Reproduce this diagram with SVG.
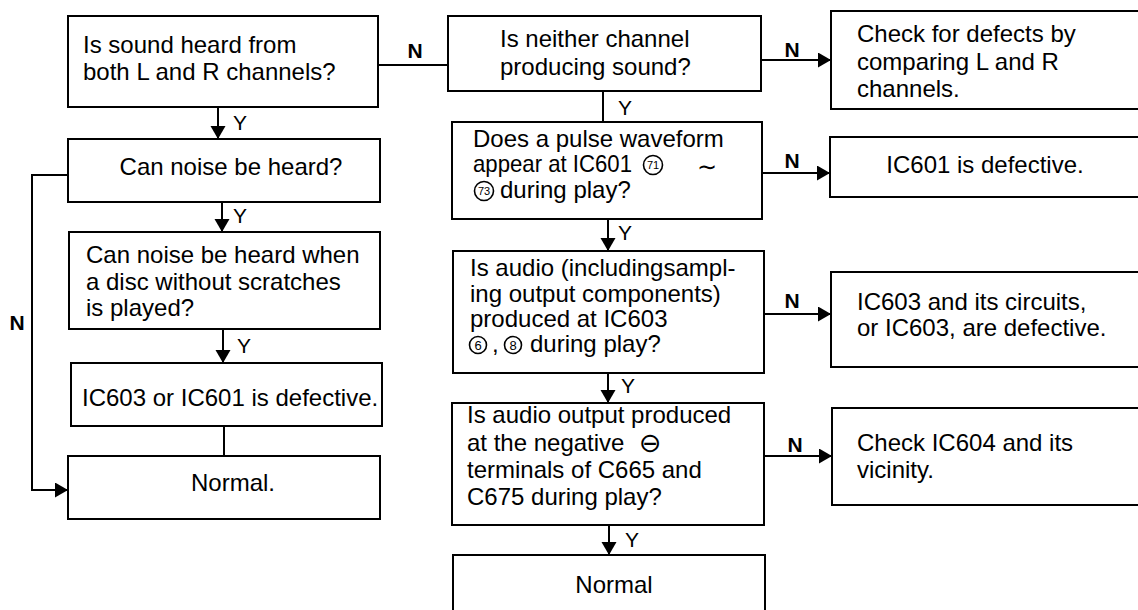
<svg xmlns="http://www.w3.org/2000/svg" width="1138" height="610" viewBox="0 0 1138 610">
<defs>
<style>
.box{fill:#fff;stroke:#000;stroke-width:2}
.t{font-family:"Liberation Sans",Arial,sans-serif;font-size:24px;fill:#000}
.c{text-anchor:middle}
.lbl{font-family:"Liberation Sans",Arial,sans-serif;font-size:21px;fill:#000;text-anchor:middle}
.n{font-weight:bold}
.ln{fill:none;stroke:#000;stroke-width:2}
.arr{marker-end:url(#ah)}
.sym{font-family:"DejaVu Sans",sans-serif}
.cn{font-family:"Liberation Sans",Arial,sans-serif;font-size:11px;text-anchor:middle}
.cd{font-family:"Liberation Sans",Arial,sans-serif;font-size:13px;text-anchor:middle}
.ring{fill:none;stroke:#000;stroke-width:1.6}
</style>
<marker id="ah" markerUnits="userSpaceOnUse" markerWidth="14" markerHeight="16" refX="13" refY="7.5" orient="auto">
<path d="M0,0 L13,7.5 L0,15 z" fill="#000"/>
</marker>
</defs>
<rect width="1138" height="610" fill="#fff"/>

<g id="connectors">
<path class="ln arr" d="M218,107 V139"/>
<path class="ln arr" d="M222,202 V232"/>
<path class="ln arr" d="M223,329 V363"/>
<path class="ln" d="M224,426 V456"/>
<path class="ln arr" d="M68,175 H32 V490 H68"/>
<path class="ln" d="M378,65 H448"/>
<path class="ln" d="M603,91 V122"/>
<path class="ln arr" d="M608,219 V251"/>
<path class="ln arr" d="M608,374 V403"/>
<path class="ln arr" d="M609,526 V555"/>
<path class="ln arr" d="M761,60 H831"/>
<path class="ln arr" d="M762,173 H830"/>
<path class="ln arr" d="M764,314 H831"/>
<path class="ln arr" d="M764,456 H832"/>
<text class="lbl" x="240" y="130">Y</text>
<text class="lbl" x="240" y="223">Y</text>
<text class="lbl" x="244" y="353">Y</text>
<text class="lbl n" x="17" y="330">N</text>
<text class="lbl n" x="415" y="58">N</text>
<text class="lbl" x="625" y="115">Y</text>
<text class="lbl" x="625" y="240">Y</text>
<text class="lbl" x="628" y="393">Y</text>
<text class="lbl" x="632" y="547">Y</text>
<text class="lbl n" x="792" y="57">N</text>
<text class="lbl n" x="792" y="168">N</text>
<text class="lbl n" x="792" y="308">N</text>
<text class="lbl n" x="795" y="452">N</text>
</g>

<g id="q1">
<rect class="box" x="68" y="16" width="310" height="91"/>
<text class="t" x="83" y="53">Is sound heard from</text>
<text class="t" x="83" y="80">both L and R channels?</text>
</g>
<g id="q2">
<rect class="box" x="68" y="139" width="312" height="63"/>
<text class="t c" x="231" y="175">Can noise be heard?</text>
</g>
<g id="q3">
<rect class="box" x="69" y="232" width="311" height="97"/>
<text class="t" x="86" y="263">Can noise be heard when</text>
<text class="t" x="86" y="290">a disc without scratches</text>
<text class="t" x="86" y="316">is played?</text>
</g>
<g id="r-ic603-ic601">
<rect class="box" x="71" y="363" width="311" height="63"/>
<text class="t" x="82" y="406">IC603 or IC601 is defective.</text>
</g>
<g id="normal1">
<rect class="box" x="68" y="456" width="312" height="63"/>
<text class="t c" x="233" y="491">Normal.</text>
</g>

<g id="qa">
<rect class="box" x="448" y="16" width="313" height="75"/>
<text class="t" x="500" y="47">Is neither channel</text>
<text class="t" x="500" y="75">producing sound?</text>
</g>
<g id="qb">
<rect class="box" x="452" y="122" width="310" height="97"/>
<text class="t" x="473" y="147">Does a pulse waveform</text>
<text class="t" x="473" y="172" textLength="159" lengthAdjust="spacingAndGlyphs">appear at IC601</text>
<circle class="ring" cx="653" cy="165" r="9.5"/>
<text class="cn" x="653" y="169">71</text>
<text class="t sym" x="707" y="175" text-anchor="middle" font-size="26">∼</text>
<circle class="ring" cx="484" cy="191" r="9.5"/>
<text class="cn" x="484" y="195">73</text>
<text class="t" x="500" y="198">during play?</text>
</g>
<g id="qc">
<rect class="box" x="453" y="251" width="311" height="122"/>
<text class="t" x="470" y="276">Is audio (includingsampl-</text>
<text class="t" x="470" y="302">ing output components)</text>
<text class="t" x="470" y="327">produced at  IC603</text>
<circle class="ring" cx="478" cy="345" r="8.5"/>
<text class="cd" x="478" y="350">6</text>
<text class="t" x="492" y="352">,</text>
<circle class="ring" cx="513" cy="345" r="8.5"/>
<text class="cd" x="513" y="350">8</text>
<text class="t" x="530" y="352">during play?</text>
</g>
<g id="qd">
<rect class="box" x="452" y="403" width="312" height="122"/>
<text class="t" x="467" y="423">Is audio output produced</text>
<text class="t" x="467" y="451">at the negative</text>
<text x="639" y="452" font-family="DejaVu Sans" font-size="27">⊖</text>
<text class="t" x="467" y="478">terminals of C665 and</text>
<text class="t" x="467" y="505">C675 during play?</text>
</g>
<g id="normal2">
<rect class="box" x="453" y="555" width="312" height="58"/>
<text class="t c" x="614" y="593">Normal</text>
</g>

<g id="r1">
<rect class="box" x="831" y="11" width="310" height="98"/>
<text class="t" x="857" y="42">Check for defects by</text>
<text class="t" x="857" y="70">comparing L and R</text>
<text class="t" x="857" y="97">channels.</text>
</g>
<g id="r2">
<rect class="box" x="830" y="137" width="311" height="60"/>
<text class="t c" x="985" y="173">IC601 is defective.</text>
</g>
<g id="r3">
<rect class="box" x="831" y="272" width="310" height="95"/>
<text class="t" x="857" y="310">IC603 and its circuits,</text>
<text class="t" x="857" y="336">or IC603, are defective.</text>
</g>
<g id="r4">
<rect class="box" x="832" y="408" width="309" height="97"/>
<text class="t" x="857" y="451">Check IC604 and its</text>
<text class="t" x="857" y="478">vicinity.</text>
</g>
</svg>
